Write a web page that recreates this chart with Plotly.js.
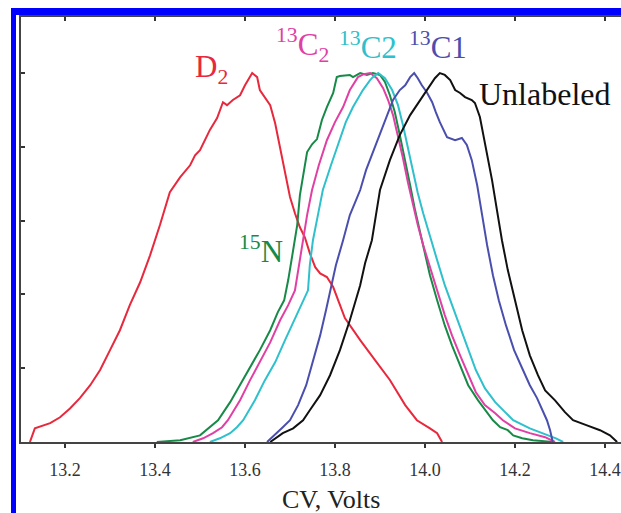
<!DOCTYPE html>
<html>
<head>
<meta charset="utf-8">
<script src="https://cdn.plot.ly/plotly-3.0.1.min.js"></script>
<style>
html,body{margin:0;padding:0;background:#fff;overflow:hidden;}
#chart{position:absolute;left:0;top:0;width:621px;height:513px;}
#frame{position:absolute;left:11px;top:8px;width:640px;height:500px;border-left:5px solid #0000ff;border-top:7px solid #0000ff;border-bottom:2px solid #a8acff;pointer-events:none;}
</style>
</head>
<body>
<div id="chart"></div>
<div id="frame"></div>
<script>
// CV (Volts) and normalized intensity for each species
const d2_x = [13.122,13.133,13.167,13.189,13.211,13.233,13.256,13.278,13.300,13.322,13.344,13.367,13.389,13.411,13.433,13.456,13.478,13.489,13.500,13.511,13.522,13.538,13.551,13.560,13.573,13.589,13.600,13.616,13.627,13.633,13.644,13.656,13.667,13.678,13.689,13.700,13.711,13.722,13.733,13.744,13.756,13.767,13.782,13.796,13.822,13.856,13.889,13.922,13.956,13.982,14.011,14.027,14.038];
const d2_y = [0,0.037,0.051,0.067,0.091,0.119,0.154,0.195,0.249,0.303,0.371,0.433,0.506,0.588,0.677,0.718,0.750,0.777,0.791,0.818,0.846,0.878,0.921,0.913,0.927,0.940,0.967,1.000,0.989,0.954,0.935,0.913,0.864,0.799,0.729,0.664,0.620,0.582,0.555,0.512,0.474,0.457,0.447,0.420,0.336,0.276,0.222,0.168,0.100,0.059,0.037,0.024,0];

const n15_x = [13.404,13.456,13.500,13.518,13.540,13.567,13.589,13.611,13.633,13.656,13.673,13.687,13.696,13.707,13.716,13.722,13.731,13.738,13.749,13.760,13.771,13.782,13.796,13.804,13.811,13.833,13.840,13.856,13.871,13.884,13.900,13.911,13.922,13.933,13.944,13.956,13.967,13.978,13.989,14.000,14.011,14.027,14.044,14.060,14.078,14.096,14.118,14.138,14.151,14.167,14.184,14.196,14.216,14.240,14.284];
const n15_y = [0,0.005,0.018,0.037,0.059,0.108,0.154,0.200,0.249,0.303,0.352,0.384,0.439,0.520,0.588,0.669,0.732,0.786,0.807,0.821,0.873,0.908,0.946,0.989,0.992,0.995,0.989,1.000,0.995,1.000,0.995,0.976,0.940,0.894,0.832,0.764,0.696,0.628,0.569,0.506,0.452,0.384,0.316,0.262,0.208,0.154,0.113,0.081,0.059,0.040,0.032,0.018,0.010,0.005,0];

const c2sub_x = [13.484,13.507,13.529,13.549,13.562,13.589,13.611,13.633,13.656,13.678,13.696,13.711,13.720,13.729,13.738,13.749,13.764,13.782,13.800,13.818,13.833,13.851,13.864,13.878,13.893,13.907,13.918,13.929,13.940,13.951,13.962,13.973,13.984,13.996,14.011,14.027,14.044,14.060,14.078,14.096,14.113,14.133,14.156,14.173,14.200,14.233,14.267,14.289];
const c2sub_y = [0,0.010,0.024,0.040,0.059,0.113,0.167,0.216,0.270,0.330,0.371,0.411,0.479,0.547,0.615,0.683,0.750,0.818,0.867,0.908,0.954,0.989,0.997,1.000,0.986,0.959,0.927,0.886,0.832,0.770,0.704,0.642,0.588,0.534,0.471,0.411,0.344,0.289,0.235,0.181,0.135,0.100,0.078,0.059,0.037,0.024,0.013,0];

const c2_x = [13.522,13.544,13.567,13.582,13.596,13.622,13.644,13.667,13.689,13.711,13.740,13.744,13.751,13.762,13.773,13.791,13.811,13.824,13.840,13.862,13.878,13.884,13.896,13.911,13.927,13.940,13.951,13.962,13.973,13.984,13.996,14.011,14.027,14.044,14.060,14.078,14.096,14.113,14.133,14.156,14.178,14.196,14.233,14.267,14.291,14.307];
const c2_y = [0,0.010,0.024,0.040,0.059,0.113,0.167,0.216,0.276,0.336,0.411,0.479,0.547,0.615,0.683,0.750,0.818,0.867,0.908,0.954,0.981,0.989,1.000,0.986,0.954,0.913,0.859,0.797,0.737,0.675,0.620,0.555,0.493,0.425,0.371,0.308,0.249,0.195,0.146,0.108,0.081,0.059,0.037,0.021,0.010,0];

const c1_x = [13.649,13.671,13.684,13.700,13.718,13.736,13.751,13.767,13.780,13.789,13.802,13.818,13.833,13.847,13.856,13.869,13.882,13.893,13.911,13.929,13.944,13.956,13.967,13.976,13.984,13.993,14.004,14.016,14.024,14.033,14.049,14.067,14.082,14.093,14.104,14.116,14.127,14.138,14.151,14.164,14.180,14.198,14.216,14.233,14.249,14.262,14.271,14.278,14.284];
const c1_y = [0,0.024,0.040,0.059,0.100,0.154,0.216,0.289,0.357,0.411,0.479,0.547,0.615,0.656,0.683,0.737,0.778,0.818,0.873,0.927,0.954,0.967,0.989,1.000,0.986,0.967,0.948,0.921,0.894,0.867,0.826,0.818,0.824,0.805,0.764,0.696,0.615,0.534,0.452,0.384,0.316,0.249,0.200,0.154,0.119,0.086,0.059,0.032,0];

const unl_x = [13.656,13.684,13.707,13.722,13.729,13.744,13.767,13.789,13.811,13.833,13.847,13.856,13.867,13.882,13.891,13.900,13.922,13.944,13.967,13.989,14.007,14.022,14.033,14.044,14.056,14.067,14.078,14.089,14.104,14.111,14.122,14.129,14.138,14.149,14.160,14.171,14.184,14.200,14.216,14.233,14.251,14.267,14.289,14.311,14.329,14.360,14.389,14.411,14.427];
const unl_y = [0,0.024,0.037,0.051,0.059,0.086,0.127,0.181,0.249,0.330,0.384,0.425,0.485,0.547,0.615,0.683,0.764,0.832,0.886,0.927,0.959,0.986,1.000,0.995,0.981,0.954,0.946,0.935,0.927,0.919,0.881,0.837,0.783,0.710,0.628,0.547,0.466,0.384,0.303,0.235,0.181,0.140,0.113,0.081,0.059,0.045,0.032,0.018,0];

const tickVals = [13.2,13.4,13.6,13.8,14.0,14.2,14.4];
const tickText = ['13.2','13.4','13.6','13.8','14.0','14.2','14.4'];

const cRed='#e8283c', cGreen='#178a48', cMag='#e040a4', cCyan='#2ec0cc', cBlue='#4a4fae', cBlack='#111111';

function tr(x,y,c){return {x:x,y:y,type:'scatter',mode:'lines',line:{color:c,width:2},hoverinfo:'skip',showlegend:false};}

const data = [
  tr(d2_x,d2_y,cRed),
  tr(n15_x,n15_y,cGreen),
  tr(c2sub_x,c2sub_y,cMag),
  tr(c2_x,c2_y,cCyan),
  tr(c1_x,c1_y,cBlue),
  tr(unl_x,unl_y,cBlack),
  {x:[],y:[],xaxis:'x2',type:'scatter',mode:'lines',showlegend:false}
];

const serif = 'Liberation Serif';
const xr = [13.1022, 14.4356];
const layout = {
  width:621, height:513,
  margin:{l:21,r:0,t:17,b:71,pad:0},
  paper_bgcolor:'#ffffff', plot_bgcolor:'#ffffff',
  showlegend:false,
  font:{family:serif},
  xaxis:{range:xr, tickvals:tickVals, ticktext:tickText, ticks:'outside', ticklen:4, tickwidth:2, tickcolor:'#333',
         showline:true, linecolor:'#444', linewidth:2, showgrid:false, zeroline:false,
         tickfont:{family:serif,size:18,color:'#333'}, ticklabelstandoff:6},
  xaxis2:{range:xr, overlaying:'x', side:'top', tickvals:tickVals, ticks:'inside', ticklen:4, tickwidth:2, tickcolor:'#333',
         showticklabels:false, showline:true, linecolor:'#444', linewidth:2, showgrid:false, zeroline:false},
  yaxis:{range:[0,1.152], dtick:0.2, tick0:0, ticks:'inside', ticklen:4, tickwidth:2, tickcolor:'#333',
         showticklabels:false, showline:true, linecolor:'#444', linewidth:2, showgrid:false, zeroline:false},
  annotations:[
    {text:'CV, Volts', xref:'paper', yref:'paper', x:0.517, y:-0.135, xanchor:'center', yanchor:'middle', showarrow:false, font:{family:serif,size:26,color:'#222'}},
    {text:'D<sub>2</sub>', x:13.4845, y:1.012, xanchor:'left', yanchor:'middle', showarrow:false, font:{family:serif,size:31,color:cRed}},
    {text:'<sup>13</sup>C<sub>2</sub>', x:13.6644, y:1.076, xanchor:'left', yanchor:'middle', showarrow:false, font:{family:serif,size:31,color:cMag}},
    {text:'<sup>13</sup>C2', x:13.8044, y:1.076, xanchor:'left', yanchor:'middle', showarrow:false, font:{family:serif,size:31,color:cCyan}},
    {text:'<sup>13</sup>C1', x:13.960, y:1.076, xanchor:'left', yanchor:'middle', showarrow:false, font:{family:serif,size:31,color:cBlue}},
    {text:'Unlabeled', x:14.1156, y:0.943, xanchor:'left', yanchor:'middle', showarrow:false, font:{family:serif,size:32,color:'#111'}},
    {text:'<sup>15</sup>N', x:13.5822, y:0.522, xanchor:'left', yanchor:'middle', showarrow:false, font:{family:serif,size:31,color:cGreen}}
  ]
};

Plotly.newPlot('chart', data, layout, {staticPlot:true, displayModeBar:false});
</script>
</body>
</html>
